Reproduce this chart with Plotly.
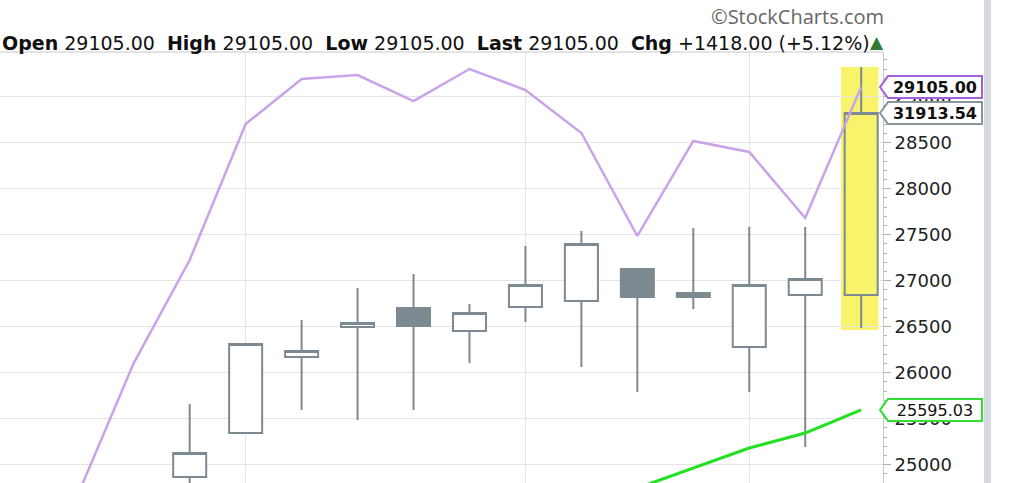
import plotly.graph_objects as go

# ---- data ----
idx = list(range(0, 13))
opens  = [24866, 25344, 26170, 26496, 26703, 26453, 26714, 26779, 27127, 26866, 26279, 26844, 26844]
highs  = [25659, 26320, 26572, 26920, 27072, 26746, 27377, 27540, 27135, 27573, 27584, 27584, 29322]
lows   = [24700, 25335, 25594, 25485, 25594, 26105, 26551, 26061, 25790, 26692, 25790, 25192, 26486]
closes = [25127, 26311, 26235, 26540, 26507, 26648, 26953, 27399, 26822, 26822, 26953, 27018, 28822]

purple_x = list(range(-2, 13))
purple_y = [24671, 26105, 27225, 28703, 29192, 29236, 28953, 29301, 29073, 28606,
            27486, 28519, 28399, 27682, 29105]

green_x = [8, 9, 10, 11, 12]
green_y = [24746, 24964, 25181, 25344, 25595]

label_purple = "29105.00"
label_grey = "31913.54"
label_green = "25595.03"
header = ("<b>Open</b> 29105.00  <b>High</b> 29105.00  <b>Low</b> 29105.00  "
          "<b>Last</b> 29105.00  <b>Chg</b> +1418.00 (+5.12%)")

# ---- layout constants ----
W, H = 1027, 483
ML, MR, MT, MB = 0, 144, 52, 0
PW, PH = W - ML - MR, H - MT - MB
YR = [24801, 29486]
XR = [-3.39, 12.39]
GREY = "#7d8a91"

def dy(px):
    return px * (YR[1] - YR[0]) / PH

def px_paper(px):
    return px / PW

fig = go.Figure()

fig.add_trace(go.Scatter(x=purple_x, y=purple_y, mode="lines",
                         line=dict(color="#c9a3e8", width=2.5), hoverinfo="skip"))
fig.add_trace(go.Scatter(x=green_x, y=green_y, mode="lines",
                         line=dict(color="#22e022", width=3), hoverinfo="skip"))

n = len(idx)
fig.add_trace(go.Candlestick(
    x=idx[:n-1], open=opens[:n-1], high=highs[:n-1], low=lows[:n-1], close=closes[:n-1],
    increasing=dict(line=dict(color=GREY, width=2), fillcolor="white"),
    decreasing=dict(line=dict(color=GREY, width=2), fillcolor=GREY),
    whiskerwidth=0, showlegend=False))
fig.add_trace(go.Candlestick(
    x=idx[n-1:], open=opens[n-1:], high=highs[n-1:], low=lows[n-1:], close=closes[n-1:],
    increasing=dict(line=dict(color=GREY, width=2), fillcolor="#f7f36a"),
    decreasing=dict(line=dict(color=GREY, width=2), fillcolor="#f7f36a"),
    whiskerwidth=0, showlegend=False))

shapes = []
# yellow highlight behind last candle
shapes.append(dict(type="rect", xref="x", yref="y", x0=idx[-1] - 0.36, x1=idx[-1] + 0.31,
                   y0=lows[-1] - dy(2), y1=highs[-1], fillcolor="#f7f36a",
                   line=dict(width=0), layer="below"))
# top border line
shapes.append(dict(type="line", xref="paper", yref="paper", x0=0, x1=1, y0=1, y1=1,
                   line=dict(color="#c8c8c8", width=1)))
# right frame bar
shapes.append(dict(type="rect", xref="paper", yref="paper",
                   x0=px_paper(984), x1=px_paper(991), y0=0, y1=1 + MT / PH,
                   fillcolor="#d5dade", line=dict(width=0)))

def tag(yval, color):
    tip = px_paper(880); l = px_paper(888); r = px_paper(982)
    h = dy(11)
    path = (f"M {tip} {yval} L {l} {yval + h} L {r} {yval + h} "
            f"L {r} {yval - h} L {l} {yval - h} Z")
    shapes.append(dict(type="path", xref="paper", yref="y", path=path,
                       fillcolor="white", line=dict(color=color, width=2)))

tag(purple_y[-1], "#a45fe0")
tag(closes[-1], "#8a969c")
tag(green_y[-1], "#33dd33")

annotations = [
    dict(text=header, xref="paper", yref="paper", x=0, y=1 + 9 / PH, xanchor="left",
         yanchor="middle", showarrow=False,
         font=dict(family="DejaVu Sans", size=19, color="#111")),
    dict(text="▲", xref="paper", yref="paper", x=px_paper(877), y=1 + 10 / PH,
         xanchor="center", yanchor="middle", showarrow=False,
         font=dict(family="DejaVu Sans", size=17, color="#2f7a34")),
    dict(text="©StockCharts.com", xref="paper", yref="paper", x=px_paper(886),
         y=1 + 35 / PH, xanchor="right", yanchor="middle", showarrow=False,
         font=dict(family="Open Sans", size=20, color="#666")),
]
for val, txt, bold in [(purple_y[-1], label_purple, True), (closes[-1], label_grey, True),
                       (green_y[-1], label_green, False)]:
    annotations.append(dict(text=f"<b>{txt}</b>" if bold else txt, xref="paper", yref="y",
                            x=px_paper(935), y=val, xanchor="center", yanchor="middle",
                            showarrow=False, width=90, height=18, bgcolor="white",
                            borderpad=0, borderwidth=0,
                            font=dict(family="DejaVu Sans", size=16, color="#111")))

fig.update_layout(
    width=W, height=H, margin=dict(l=ML, r=MR, t=MT, b=MB),
    paper_bgcolor="white", plot_bgcolor="white", showlegend=False,
    boxgap=0.41, boxgroupgap=0,
    shapes=shapes, annotations=annotations,
    xaxis=dict(range=XR, tickvals=[1, 6, 10], showticklabels=False, showgrid=True,
               gridcolor="#e4e4e4", zeroline=False, rangeslider=dict(visible=False),
               fixedrange=True),
    yaxis=dict(range=YR, side="right", dtick=500, tick0=0, tickformat="d",
               showgrid=True, gridcolor="#e4e4e4",
               zeroline=False, showline=True, linecolor="#c8c8c8", ticks="outside",
               ticklen=7, tickcolor="#b0b0b0",
               minor=dict(dtick=100, ticklen=3, ticks="outside", tickcolor="#b0b0b0",
                          showgrid=False),
               tickfont=dict(family="DejaVu Sans", size=18, color="#222"),
               fixedrange=True),
)

fig.write_html("out.html", post_script="document.body.style.margin='0';",
               config={"displayModeBar": False})
